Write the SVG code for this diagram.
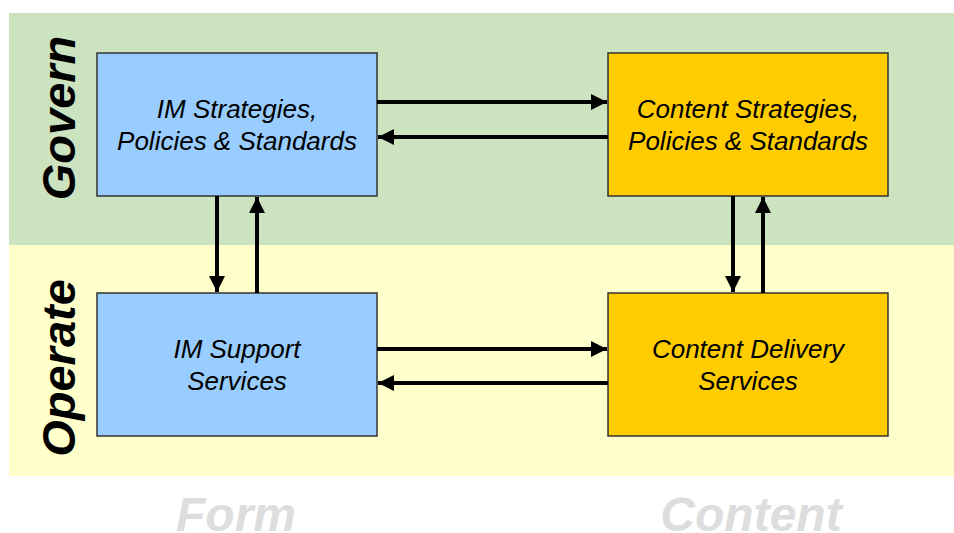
<svg xmlns="http://www.w3.org/2000/svg" width="954" height="533" viewBox="0 0 954 533">
<defs>
<marker id="ah" markerWidth="4" markerHeight="4" refX="4" refY="2" orient="auto" markerUnits="strokeWidth">
<path d="M0,0 L4,2 L0,4 Z" fill="#000"/>
</marker>
<style>
.box text{font-family:"Liberation Sans",Arial,sans-serif;font-style:italic;font-size:26px;fill:#000;text-anchor:middle}
.blue{fill:#99ccff;stroke:#333;stroke-width:1.5}
.gold{fill:#ffcc00;stroke:#333;stroke-width:1.5}
.conn line{stroke:#000;stroke-width:4;marker-end:url(#ah)}
.band{font-family:"Liberation Sans",Arial,sans-serif;font-style:italic;font-weight:bold;font-size:47px;fill:#000;text-anchor:middle}
.foot{font-family:"Liberation Sans",Arial,sans-serif;font-style:italic;font-weight:bold;font-size:48px;fill:#dddddd;text-anchor:middle}
</style>
</defs>
<rect x="0" y="0" width="954" height="533" fill="#fff"/>
<rect x="9" y="13" width="945" height="232" fill="#cce3bf"/>
<rect x="9" y="245" width="945" height="231" fill="#ffffcc"/>
<text class="band" transform="translate(75,118) rotate(-90)">Govern</text>
<text class="band" transform="translate(75,368) rotate(-90)">Operate</text>
<text class="foot" x="236" y="531">Form</text>
<text class="foot" x="751" y="531">Content</text>
<g id="im-strategies" class="box">
<rect class="blue" x="97" y="53" width="280" height="143"/>
<text x="237" y="118">IM Strategies,</text>
<text x="237" y="150">Policies &amp; Standards</text>
</g>
<g id="content-strategies" class="box">
<rect class="gold" x="608" y="53" width="280" height="143"/>
<text x="748" y="118">Content Strategies,</text>
<text x="748" y="150">Policies &amp; Standards</text>
</g>
<g id="im-support" class="box">
<rect class="blue" x="97" y="293" width="280" height="143"/>
<text x="237" y="358">IM Support</text>
<text x="237" y="390">Services</text>
</g>
<g id="content-delivery" class="box">
<rect class="gold" x="608" y="293" width="280" height="143"/>
<text x="748" y="358">Content Delivery</text>
<text x="748" y="390">Services</text>
</g>
<g id="connectors" class="conn">
<line x1="377" y1="102" x2="607" y2="102"/>
<line x1="608" y1="137" x2="378" y2="137"/>
<line x1="377" y1="349" x2="607" y2="349"/>
<line x1="608" y1="383" x2="378" y2="383"/>
<line x1="217" y1="196" x2="217" y2="292"/>
<line x1="257" y1="293" x2="257" y2="197"/>
<line x1="733" y1="196" x2="733" y2="292"/>
<line x1="763" y1="293" x2="763" y2="197"/>
</g>
</svg>
